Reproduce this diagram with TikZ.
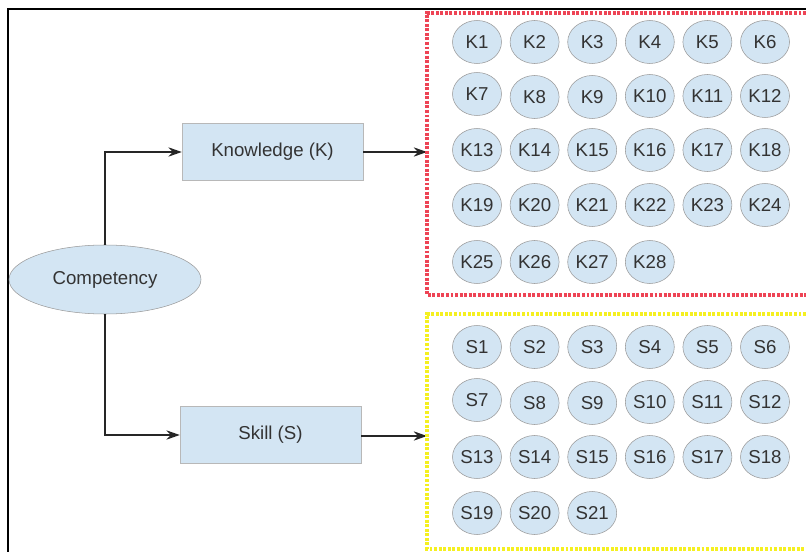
\documentclass[tikz,border=0pt]{standalone}
\usepackage{fontspec}
\setmainfont{Liberation Sans}
\usetikzlibrary{shapes.geometric,arrows.meta}
\definecolor{ballfill}{HTML}{D3E5F3}
\definecolor{ballline}{HTML}{9A9A9A}
\definecolor{txtgray}{HTML}{333333}
\definecolor{kred}{HTML}{EE4455}
\definecolor{syellow}{HTML}{F5F020}
\begin{document}
\begin{tikzpicture}[x=0.75pt,y=-0.75pt,
    ball/.style={ellipse,draw=ballline,fill=ballfill,inner sep=0pt,minimum width=36.75pt,minimum height=32.25pt,text=txtgray,font=\fontsize{14}{16}\selectfont},
    cbox/.style={rectangle,draw=ballline!70,fill=ballfill,minimum width=135.75pt,minimum height=42.75pt,text=txtgray,font=\fontsize{14}{16}\selectfont},
    arr/.style={-{Stealth[length=10pt,width=7pt]},line width=1.1pt,black!85}]
                    \useasboundingbox (0,0) rectangle (806,552);
                    \fill[white] (0,0) rectangle (806,552);
                    \draw[line width=1.1pt] (8,552) -- (8,9) -- (806,9);
                    % main nodes
                    \node[ellipse,draw=ballline,fill=ballfill,minimum width=144pt,minimum height=51.75pt,text=txtgray,font=\fontsize{14}{16}\selectfont] (comp) at (105,279.5) {Competency};
                    \node[cbox] (know) at (272.5,152) {Knowledge (K)};
                    \node[cbox] (skill) at (270.5,435) {Skill (S)};
                    \coordinate (kin) at (427,152);
                    \coordinate (sin) at (427,436);
                    \draw[arr] (comp.north) |- (know.west);
                    \draw[arr] (comp.south) |- (skill.west);
                    \draw[arr] (know.east) -- (know.east -| kin);
                    \draw[arr] (skill.east |- sin) -- (sin);
                    % group frames
                    \draw[kred,line width=2.4pt,dash pattern=on 2.2pt off 1.2pt] (806,13) -- (427,13) -- (427,295) -- (806,295);
                    \draw[syellow,line width=2.4pt,dash pattern=on 2.2pt off 1.2pt] (806,314) -- (427,314) -- (427,549) -- (806,549);
                    % knowledge items
                    \node[ball] (k1) at (477,42) {K1};
                    \node[ball] (k2) at (534.6,42) {K2};
                    \node[ball] (k3) at (592.2,42) {K3};
                    \node[ball] (k4) at (649.8,42) {K4};
                    \node[ball] (k5) at (707.4,42) {K5};
                    \node[ball] (k6) at (765,42) {K6};
                    \node[ball] (k7) at (477,94) {K7};
                    \node[ball] (k8) at (534.6,97) {K8};
                    \node[ball] (k9) at (592.2,97) {K9};
                    \node[ball] (k10) at (649.8,96) {K10};
                    \node[ball] (k11) at (707.4,96) {K11};
                    \node[ball] (k12) at (765,96) {K12};
                    \node[ball] (k13) at (477,150) {K13};
                    \node[ball] (k14) at (534.6,150) {K14};
                    \node[ball] (k15) at (592.2,150) {K15};
                    \node[ball] (k16) at (649.8,150) {K16};
                    \node[ball] (k17) at (707.4,150) {K17};
                    \node[ball] (k18) at (765,150) {K18};
                    \node[ball] (k19) at (477,205) {K19};
                    \node[ball] (k20) at (534.6,205) {K20};
                    \node[ball] (k21) at (592.2,205) {K21};
                    \node[ball] (k22) at (649.8,205) {K22};
                    \node[ball] (k23) at (707.4,205) {K23};
                    \node[ball] (k24) at (765,205) {K24};
                    \node[ball] (k25) at (477,262) {K25};
                    \node[ball] (k26) at (534.6,262) {K26};
                    \node[ball] (k27) at (592.2,262) {K27};
                    \node[ball] (k28) at (649.8,262) {K28};
                    % skill items
                    \node[ball] (s1) at (477,347) {S1};
                    \node[ball] (s2) at (534.6,347) {S2};
                    \node[ball] (s3) at (592.2,347) {S3};
                    \node[ball] (s4) at (649.8,347) {S4};
                    \node[ball] (s5) at (707.4,347) {S5};
                    \node[ball] (s6) at (765,347) {S6};
                    \node[ball] (s7) at (477,400) {S7};
                    \node[ball] (s8) at (534.6,403) {S8};
                    \node[ball] (s9) at (592.2,403) {S9};
                    \node[ball] (s10) at (649.8,402) {S10};
                    \node[ball] (s11) at (707.4,402) {S11};
                    \node[ball] (s12) at (765,402) {S12};
                    \node[ball] (s13) at (477,457) {S13};
                    \node[ball] (s14) at (534.6,457) {S14};
                    \node[ball] (s15) at (592.2,457) {S15};
                    \node[ball] (s16) at (649.8,457) {S16};
                    \node[ball] (s17) at (707.4,457) {S17};
                    \node[ball] (s18) at (765,457) {S18};
                    \node[ball] (s19) at (477,513) {S19};
                    \node[ball] (s20) at (534.6,513) {S20};
                    \node[ball] (s21) at (592.2,513) {S21};
                \end{tikzpicture}
\end{document}
